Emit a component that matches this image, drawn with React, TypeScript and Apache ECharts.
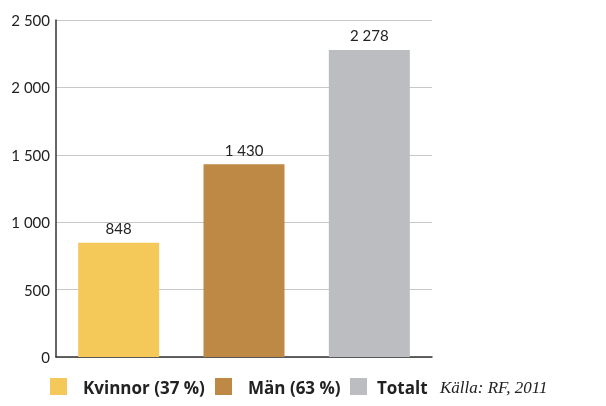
import React, { useEffect, useRef } from "react";
import * as echarts from "echarts";

const categories = ["Kvinnor (37 %)", "Män (63 %)", "Totalt"];
const values = [848, 1430, 2278];
const colors = ["#F5C85A", "#BE8944", "#BCBDC0"];
const yTicks = [0, 500, 1000, 1500, 2000, 2500];
const source = "Källa: RF, 2011";

const fmt = (v: number) => String(v).replace(/\B(?=(\d{3})+(?!\d))/g, " ");

export default function App() {
  const ref = useRef<HTMLDivElement>(null);
  useEffect(() => {
    const chart = echarts.init(ref.current!, null, { renderer: "svg" });
    const font = "Lato, 'DejaVu Sans', sans-serif";
    const legendX = [50, 215, 350];
    const textX = [83, 248, 377];
    const graphic: any[] = [];
    categories.forEach((c, i) => {
      graphic.push({
        type: "rect",
        shape: { x: legendX[i], y: 378, width: 17, height: 17 },
        style: { fill: colors[i] },
      });
      graphic.push({
        type: "text",
        x: textX[i],
        y: 387,
        style: {
          text: c,
          fill: "#222",
          font: "bold 17px 'Open Sans', 'DejaVu Sans', sans-serif",
          verticalAlign: "middle",
        },
      });
    });
    graphic.push({
      type: "text",
      x: 440,
      y: 387,
      style: {
        text: source,
        fill: "#222",
        font: "italic 17px 'Liberation Serif', 'DejaVu Serif', serif",
        verticalAlign: "middle",
      },
    });
    chart.setOption({
      animation: false,
      grid: { left: 56, top: 20, right: 174, bottom: 49 },
      xAxis: {
        type: "category",
        data: categories,
        axisLine: { lineStyle: { color: "#333", width: 1.5 } },
        axisTick: { show: false },
        axisLabel: { show: false },
      },
      yAxis: {
        type: "value",
        min: yTicks[0],
        max: yTicks[yTicks.length - 1],
        interval: 500,
        axisLine: { show: true, lineStyle: { color: "#333", width: 1.5 } },
        axisTick: { show: false },
        splitLine: { lineStyle: { color: "#c8c8c8", width: 1 } },
        axisLabel: {
          color: "#222",
          fontSize: 15,
          fontFamily: font,
          margin: 6,
          formatter: (v: number) => fmt(v),
        },
      },
      series: [
        {
          type: "bar",
          barWidth: 81,
          data: values.map((v, i) => ({ value: v, itemStyle: { color: colors[i] } })),
          label: {
            show: true,
            position: "top",
            distance: 7,
            color: "#222",
            fontSize: 15,
            fontFamily: font,
            formatter: (p: any) => fmt(p.value),
          },
        },
      ],
      graphic,
    });
    return () => chart.dispose();
  }, []);
  return (
    <div
      ref={ref}
      style={{ position: "fixed", left: 0, top: 0, width: 606, height: 406 }}
    />
  );
}
